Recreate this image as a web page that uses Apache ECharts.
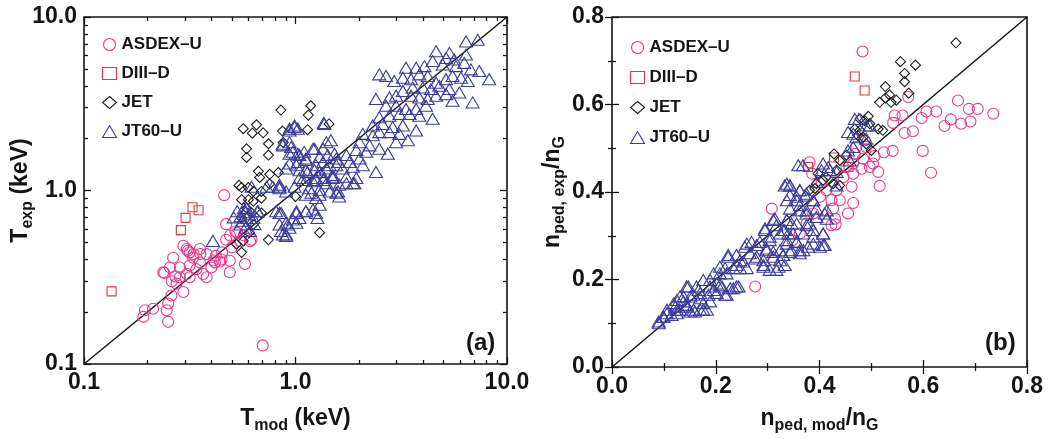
<!DOCTYPE html>
<html><head><meta charset="utf-8">
<script src="https://cdn.jsdelivr.net/npm/echarts@6/dist/echarts.min.js"></script>
<style>html,body{margin:0;padding:0;background:#fff}#c{width:1051px;height:439px}</style>
</head><body><div id="c"></div>
<script>
const seriesNames = ['ASDEX–U', 'DIII–D', 'JET', 'JT60–U'];
const panelLabels = ['(a)', '(b)'];

// ---------- Panel (a): T_exp vs T_mod (keV), log-log ----------
const asdexA = [[0.46,0.94],[0.47,0.64],[0.49,0.55],[0.53,0.57],[0.47,0.52],[0.55,0.51],[0.61,0.51],[0.57,0.55],[0.52,0.58],[0.62,0.52],
[0.306,0.46],[0.353,0.46],[0.316,0.44],[0.38,0.43],[0.328,0.41],[0.353,0.385],[0.447,0.40],[0.489,0.394],[0.416,0.385],[0.264,0.41],
[0.255,0.36],[0.237,0.338],[0.284,0.36],[0.316,0.37],[0.34,0.352],[0.306,0.33],[0.366,0.33],[0.284,0.316],[0.316,0.316],[0.38,0.316],
[0.274,0.29],[0.295,0.26],[0.259,0.248],[0.489,0.338],[0.577,0.377],[0.25,0.223],[0.246,0.204],[0.212,0.208],[0.194,0.204],[0.191,0.187],
[0.25,0.175],[0.70,0.128],[0.295,0.48],[0.31,0.45],[0.33,0.43],[0.355,0.43],[0.41,0.395],[0.44,0.39],[0.27,0.32],[0.26,0.30],
[0.24,0.335],[0.42,0.42],[0.45,0.44],[0.50,0.47],[0.40,0.36]];
const diiidA = [[0.135,0.262],[0.287,0.591],[0.302,0.695],[0.326,0.80],[0.348,0.77]];
const jetA = [[0.853,2.91],[1.18,3.08],[1.15,2.72],[0.566,2.27],[0.654,2.39],[0.625,2.14],[0.703,2.15],[0.868,2.2],[1.14,2.24],[1.44,2.42],
[0.745,1.86],[0.587,1.74],[0.587,1.55],[0.745,1.6],[0.875,1.89],[0.668,1.29],[0.755,1.24],[0.83,1.27],[0.677,1.19],[0.541,1.07],
[0.556,1.04],[0.599,1.04],[0.632,0.987],[0.755,1.09],[0.69,0.987],[0.556,0.885],[0.599,0.885],[0.632,0.866],[0.69,0.904],[1.0,0.924],
[0.587,0.79],[0.556,0.695],[0.62,0.742],[0.69,0.742],[0.632,0.637],[0.604,0.571],[0.566,0.512],[0.526,0.49],[0.556,0.44],[0.745,0.52],[1.30,0.571]];
const jt60A = [[6.40,7.23],[7.27,7.39],[4.62,6.34],[5.34,6.21],[5.15,5.80],[5.63,5.69],[6.40,6.07],[3.33,5.10],[3.72,5.10],[4.07,5.21],
[4.45,5.57],[4.97,5.32],[5.74,5.21],[6.28,5.44],[6.75,4.99],[7.40,4.88],[8.24,4.38],[2.49,4.67],[2.68,4.57],[2.93,4.28],
[3.22,4.47],[3.52,4.38],[3.85,4.67],[4.22,4.57],[4.62,4.18],[5.15,4.38],[5.53,4.57],[6.06,4.47],[6.52,4.28],[3.58,3.92],
[4.00,3.92],[4.37,3.84],[4.79,4.01],[5.34,3.84],[5.95,3.67],[2.40,3.37],[2.78,3.44],[2.99,3.52],[3.22,3.75],[3.52,3.52],
[3.85,3.44],[4.22,3.37],[4.62,3.52],[5.15,3.59],[5.53,3.29],[6.88,3.22],[2.68,3.08],[2.99,3.08],[3.33,2.95],[3.72,2.95],
[4.14,3.08],[2.49,2.64],[2.78,2.70],[3.10,2.76],[3.46,2.76],[3.85,2.70],[4.45,2.59],[2.32,2.37],[2.58,2.42],[2.88,2.32],
[3.22,2.37],[3.72,2.22],[2.08,2.12],[2.32,2.08],[2.49,2.17],[2.78,2.17],[3.10,2.12],[2.99,1.90],[3.40,1.95],[2.01,1.90],
[2.24,1.82],[2.49,1.74],[1.94,1.71],[2.16,1.67],[2.73,1.63],[1.74,1.60],[2.01,1.53],[1.59,1.46],[1.80,1.46],[1.45,1.40],
[1.67,1.34],[1.87,1.37],[2.08,1.40],[2.40,1.28],[1.30,1.28],[1.50,1.23],[1.74,1.20],[1.94,1.18],[1.25,1.15],[1.40,1.10],
[1.61,1.08],[1.87,1.10],[0.937,2.27],[0.99,2.32],[1.37,2.42],[0.871,1.82],[0.937,1.90],[0.971,1.67],[1.044,1.60],[1.12,1.53],
[1.21,1.74],[1.35,1.74],[1.25,1.40],[1.35,1.46],[1.56,1.53],[1.01,1.40],[0.903,1.34],[1.14,1.28],[1.044,1.18],[1.16,1.03],
[0.84,1.08],[1.30,1.01],[1.45,0.987],[1.56,0.97],[0.84,1.03],[0.903,0.987],[1.08,1.15],[1.21,1.13],[1.35,1.15],[1.50,1.18],
[1.59,0.987],[1.61,0.924],[1.74,1.10],[1.90,1.10],[1.25,0.904],[1.30,0.828],[1.21,0.776],[1.12,0.759],[1.01,0.742],[1.044,0.695],
[0.971,0.68],[0.903,0.651],[0.84,0.637],[0.937,0.61],[0.871,0.558],[0.903,0.547],[1.27,0.695],[0.84,0.742],[0.99,2.37],[0.937,2.22],
[1.025,2.27],[1.36,2.45],[0.871,1.86],[0.954,1.78],[0.937,1.63],[1.025,1.63],[1.10,1.67],[1.23,1.74],[1.40,1.90],[1.47,1.95],
[1.025,1.46],[1.12,1.50],[1.30,1.56],[1.42,1.60],[1.53,1.63],[1.56,1.40],[1.40,1.34],[1.23,1.31],[1.12,1.31],[1.044,1.31],
[0.937,1.43],[0.62,1.05],[0.73,1.05],[0.78,1.05],[0.84,1.05],[0.99,1.05],[1.12,1.15],[1.25,1.18],[1.37,1.18],[1.50,1.20],
[1.30,0.945],[1.19,0.97],[1.12,0.945],[0.81,0.759],[0.855,0.742],[1.01,0.759],[1.12,0.759],[1.25,0.742],[0.587,0.79],[0.664,0.759],
[0.55,0.71],[0.587,0.695],[0.632,0.695],[0.92,0.637],[1.01,0.651],[0.855,0.584],[0.903,0.558],[0.407,0.512],[0.55,0.637],[0.609,0.584],
[0.53,0.76],[0.58,0.75],[0.51,0.70],[0.57,0.79],[0.60,0.73],[0.66,0.76],[0.64,0.64],[0.58,0.61],[0.56,0.67]];
const diagA = [[0.1,0.1],[10,10]];
const tickValuesA = [0.1, 1, 10];
const tickLabelsA = ['0.1', '1.0', '10.0'];
const minorTicksA = [0.2,0.3,0.4,0.5,0.6,0.7,0.8,0.9,2,3,4,5,6,7,8,9];

// ---------- Panel (b): n_ped,exp/n_G vs n_ped,mod/n_G ----------
const asdexB = [[0.483,0.721],[0.571,0.617],[0.667,0.609],[0.688,0.590],[0.705,0.590],[0.735,0.579],[0.625,0.584],[0.606,0.584],[0.597,0.569],[0.653,0.566],
[0.641,0.551],[0.673,0.556],[0.691,0.561],[0.580,0.539],[0.564,0.535],[0.545,0.575],[0.560,0.575],[0.542,0.558],[0.599,0.494],[0.615,0.444],
[0.541,0.494],[0.524,0.491],[0.513,0.446],[0.516,0.414],[0.503,0.465],[0.506,0.482],[0.484,0.476],[0.497,0.457],[0.481,0.453],[0.465,0.465],
[0.465,0.442],[0.452,0.457],[0.446,0.434],[0.462,0.412],[0.465,0.375],[0.455,0.351],[0.433,0.404],[0.439,0.381],[0.423,0.381],[0.426,0.362],
[0.430,0.339],[0.423,0.324],[0.431,0.326],[0.381,0.468],[0.386,0.442],[0.404,0.423],[0.413,0.404],[0.401,0.389],[0.388,0.351],[0.375,0.328],
[0.362,0.305],[0.348,0.290],[0.308,0.362],[0.276,0.184],[0.311,0.245],[0.487,0.518],[0.471,0.503],[0.490,0.503],[0.468,0.487]];
const diiidB = [[0.468,0.664],[0.487,0.632],[0.378,0.457],[0.428,0.479],[0.456,0.457]];
const jetB = [[0.663,0.741],[0.556,0.698],[0.585,0.690],[0.564,0.671],[0.564,0.652],[0.527,0.641],[0.572,0.626],[0.535,0.622],[0.516,0.605],[0.527,0.615],
[0.548,0.610],[0.538,0.605],[0.494,0.573],[0.478,0.567],[0.513,0.544],[0.468,0.544],[0.474,0.529],[0.490,0.510],[0.481,0.522],[0.500,0.495],
[0.428,0.487],[0.439,0.472],[0.433,0.450],[0.413,0.434],[0.394,0.419],[0.381,0.404],[0.426,0.419],[0.407,0.427],[0.397,0.442],[0.487,0.563],
[0.497,0.556],[0.478,0.541],[0.522,0.541],[0.484,0.525],[0.452,0.484],[0.391,0.408],[0.439,0.415]];
const jt60B = [[0.090,0.104],[0.099,0.115],[0.106,0.123],[0.115,0.119],[0.125,0.123],[0.122,0.138],[0.131,0.131],[0.125,0.153],[0.138,0.150],[0.144,0.142],
[0.151,0.127],[0.157,0.131],[0.147,0.184],[0.138,0.161],[0.157,0.165],[0.167,0.176],[0.170,0.157],[0.176,0.146],[0.183,0.131],[0.170,0.131],
[0.186,0.165],[0.196,0.176],[0.202,0.191],[0.189,0.199],[0.212,0.184],[0.218,0.165],[0.228,0.180],[0.240,0.184],[0.208,0.214],[0.218,0.226],
[0.224,0.256],[0.240,0.233],[0.253,0.241],[0.247,0.226],[0.260,0.226],[0.256,0.275],[0.269,0.286],[0.279,0.279],[0.276,0.248],[0.292,0.244],
[0.292,0.229],[0.298,0.271],[0.311,0.263],[0.304,0.290],[0.295,0.313],[0.317,0.324],[0.311,0.336],[0.324,0.244],[0.317,0.222],[0.304,0.222],
[0.337,0.290],[0.333,0.313],[0.346,0.328],[0.346,0.267],[0.362,0.267],[0.356,0.286],[0.369,0.305],[0.381,0.328],[0.394,0.343],[0.375,0.351],
[0.362,0.358],[0.356,0.381],[0.343,0.393],[0.343,0.415],[0.362,0.404],[0.375,0.396],[0.388,0.381],[0.388,0.298],[0.407,0.279],[0.407,0.305],
[0.410,0.351],[0.401,0.275],[0.378,0.275],[0.330,0.256],[0.333,0.233],[0.337,0.419],[0.314,0.339],[0.337,0.336],[0.295,0.317],[0.304,0.298],
[0.324,0.305],[0.340,0.305],[0.285,0.286],[0.298,0.267],[0.311,0.252],[0.330,0.256],[0.321,0.229],[0.292,0.233],[0.279,0.252],[0.260,0.282],
[0.266,0.260],[0.240,0.256],[0.247,0.244],[0.224,0.252],[0.234,0.226],[0.208,0.229],[0.221,0.214],[0.196,0.214],[0.208,0.188],[0.189,0.184],
[0.176,0.199],[0.163,0.184],[0.170,0.169],[0.144,0.184],[0.151,0.161],[0.131,0.161],[0.119,0.146],[0.106,0.131],[0.099,0.115],[0.090,0.100],
[0.125,0.131],[0.144,0.138],[0.160,0.127],[0.176,0.131],[0.189,0.150],[0.202,0.169],[0.221,0.165],[0.234,0.180],[0.244,0.184],[0.476,0.567],
[0.465,0.533],[0.497,0.552],[0.490,0.522],[0.455,0.495],[0.465,0.503],[0.458,0.472],[0.368,0.461],[0.404,0.450],[0.417,0.457],[0.433,0.446],
[0.394,0.423],[0.343,0.415],[0.433,0.415],[0.362,0.404],[0.372,0.392],[0.356,0.389],[0.337,0.381],[0.388,0.381],[0.343,0.362],[0.362,0.370],
[0.375,0.358],[0.394,0.362],[0.414,0.358],[0.414,0.339],[0.337,0.336],[0.356,0.328],[0.375,0.324],[0.388,0.313],[0.407,0.305],[0.349,0.305],
[0.330,0.313],[0.337,0.282],[0.356,0.286],[0.369,0.267],[0.388,0.282],[0.410,0.279],[0.343,0.263],[0.362,0.260],[0.324,0.267],[0.468,0.567],
[0.455,0.537],[0.359,0.461],[0.333,0.415],[0.407,0.465],[0.420,0.450],[0.490,0.552],[0.471,0.525]];
const diagB = [[0,0],[0.8,0.8]];
const tickValuesB = [0, 0.2, 0.4, 0.6, 0.8];
const tickLabelsB = ['0.0', '0.2', '0.4', '0.6', '0.8'];

// ---------- styling ----------
const FONT = '"Liberation Sans", Arial, Helvetica, sans-serif';
const AX = '#141414';
const COLORS = ['#e8388c', '#e8363c', '#1e1e1e', '#3a3d9c'];
const SYMBOLS = ['circle', 'rect', 'diamond', 'triangle'];
const SIZES = [11, 9, 10, [13, 11]];

function labelFrom(values, labels, v) {
  for (let i = 0; i < values.length; i++) {
    if (Math.abs(v - values[i]) <= 1e-6 * Math.max(1, Math.abs(values[i]))) return labels[i];
  }
  return '';
}
function tick(len, custom) {
  const t = { show: true, inside: true, length: len, lineStyle: { color: AX, width: 1.3 } };
  if (custom) t.customValues = custom;
  return t;
}
const labelStyle = { fontSize: 23, fontWeight: 'bold', fontFamily: FONT, color: AX };
function richName(marginTop) {
  return {
    color: AX, fontFamily: FONT, fontWeight: 'bold', fontSize: 22,
    rich: {
      m: { fontSize: 23, fontWeight: 'bold', fontFamily: FONT, color: AX, lineHeight: 26 },
      s: { fontSize: 16, fontWeight: 'bold', fontFamily: FONT, color: AX, padding: [marginTop, 0, 0, 0] }
    }
  };
}
function logAxis(pos, custom, len, withLabels, extra) {
  const a = {
    type: 'log', logBase: 10, gridIndex: 0, position: pos, min: 0.1, max: 10,
    axisLine: { show: false }, splitLine: { show: false },
    axisTick: tick(len, custom),
    axisLabel: withLabels ? Object.assign({ show: true, customValues: tickValuesA, margin: 7,
      formatter: v => labelFrom(tickValuesA, tickLabelsA, v) }, labelStyle) : { show: false }
  };
  return Object.assign(a, extra || {});
}
function linAxis(pos, withLabels, extra) {
  const a = {
    type: 'value', gridIndex: 1, position: pos, min: 0, max: 0.8, interval: 0.2,
    axisLine: { show: false }, splitLine: { show: false },
    axisTick: tick(7), minorTick: { show: true, splitNumber: 2, length: 4, lineStyle: { color: AX, width: 1.3 } },
    minorSplitLine: { show: false },
    axisLabel: withLabels ? Object.assign({ show: true, margin: 8,
      formatter: v => labelFrom(tickValuesB, tickLabelsB, v) }, labelStyle) : { show: false }
  };
  return Object.assign(a, extra || {});
}

const xAxes = [
  logAxis('bottom', tickValuesA, 7, true, { name: '{m|T}{s|mod}{m| (keV)}', nameLocation: 'middle', nameGap: 40, nameMoveOverlap: false, nameTextStyle: richName(14) }),
  logAxis('bottom', minorTicksA, 4, false),
  logAxis('top', tickValuesA, 7, false),
  logAxis('top', minorTicksA, 4, false),
  linAxis('bottom', true, { name: '{m|n}{s|ped, mod}{m|/n}{s|G}', nameLocation: 'middle', nameGap: 37, nameMoveOverlap: false, nameTextStyle: richName(14) }),
  linAxis('top', false)
];
const yAxes = [
  logAxis('left', tickValuesA, 7, true, { name: '{m|T}{s|exp}{m| (keV)}', nameLocation: 'middle', nameGap: 48, nameMoveOverlap: false, nameTextStyle: richName(14) }),
  logAxis('left', minorTicksA, 4, false),
  logAxis('right', tickValuesA, 7, false),
  logAxis('right', minorTicksA, 4, false),
  linAxis('left', true, { name: '{m|n}{s|ped, exp}{m|/n}{s|G}', nameLocation: 'middle', nameGap: 44, nameMoveOverlap: false, nameTextStyle: richName(14) }),
  linAxis('right', false)
];

const dataA = [asdexA, diiidA, jetA, jt60A];
const dataB = [asdexB, diiidB, jetB, jt60B];
const series = [];
function addScatter(list, xi) {
  list.forEach((d, i) => series.push({
    type: 'scatter', name: seriesNames[i], xAxisIndex: xi, yAxisIndex: xi, data: d,
    symbol: SYMBOLS[i], symbolSize: SIZES[i],
    itemStyle: { color: 'rgba(255,255,255,0)', borderColor: COLORS[i], borderWidth: 1.1, opacity: 1 },
    emphasis: { disabled: true }, z: 3 + i
  }));
}
addScatter(dataA, 0);
addScatter(dataB, 4);
series.push({ type: 'line', xAxisIndex: 0, yAxisIndex: 0, data: diagA, symbol: 'none', lineStyle: { color: AX, width: 1.5 }, z: 2 });
series.push({ type: 'line', xAxisIndex: 4, yAxisIndex: 4, data: diagB, symbol: 'none', lineStyle: { color: AX, width: 1.5 }, z: 2 });

const legendItems = seriesNames.map((n, i) => ({
  name: n, icon: SYMBOLS[i],
  itemStyle: { color: 'rgba(255,255,255,0)', borderColor: COLORS[i], borderWidth: 1.1 }
}));
function legend(left, top, gap) {
  return {
    orient: 'vertical', left: left, top: top, itemWidth: 14, itemHeight: 12, itemGap: gap,
    selectedMode: false, data: legendItems,
    textStyle: { fontSize: 17, fontWeight: 'bold', fontFamily: FONT, color: AX }
  };
}

const chart = echarts.init(document.getElementById('c'), null, { renderer: 'canvas' });
chart.setOption({
  animation: false,
  backgroundColor: '#fff',
  grid: [
    { left: 84, top: 17, width: 423, height: 350, show: true, borderColor: AX, borderWidth: 1.6, backgroundColor: 'transparent' },
    { left: 612, top: 17, width: 415, height: 351, show: true, borderColor: AX, borderWidth: 1.6, backgroundColor: 'transparent' }
  ],
  xAxis: xAxes,
  yAxis: yAxes,
  legend: [legend(97, 31, 12), legend(625, 34, 13)],
  graphic: [
    { type: 'text', left: 466, top: 331, style: { text: panelLabels[0], fontSize: 24, fontWeight: 'bold', fontFamily: FONT, fill: AX } },
    { type: 'text', left: 985, top: 331, style: { text: panelLabels[1], fontSize: 24, fontWeight: 'bold', fontFamily: FONT, fill: AX } }
  ],
  series: series
});
</script></body></html>
